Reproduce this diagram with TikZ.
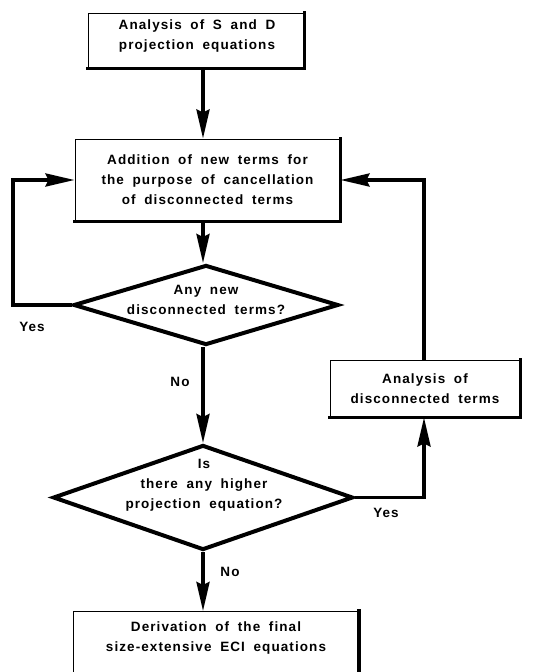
\documentclass[tikz,border=0pt]{standalone}
\usepackage{fontspec}
\setmainfont{Liberation Sans}[LetterSpace=8,WordSpace=1.8]
\usetikzlibrary{shapes.geometric,arrows.meta}
\tikzset{
  txt/.style={font=\bfseries\fontsize{13.5}{20}\selectfont, align=center, inner sep=0pt},
  box/.style={txt, draw, line width=1pt, rectangle},
  shade/.style={line width=3.5pt, line cap=rect},
  dec/.style={draw, diamond, line width=4pt, inner sep=0pt, line join=miter},
  conn/.style={line width=3.5pt, line join=miter},
  arr/.style={conn, -{Stealth[length=29pt,width=13pt,inset=3pt]}},
  lbl/.style={font=\bfseries\fontsize{13.5}{14}\selectfont, inner sep=0pt}
}
\begin{document}
\begin{tikzpicture}[x=1pt,y=-1pt]
\useasboundingbox (0,0) rectangle (533,672);
\clip (0,0) rectangle (533,672);
\coordinate (col) at (203,0);
% boxes
\node[box, minimum width=216pt, minimum height=55pt] (b1) at (196,40.5) {};
\node[txt] (t1b) at (197,36) {Analysis of S and D\\projection equations};
\node[box, minimum width=265pt, minimum height=82pt] (b2) at (207.5,180) {Addition of new terms for\\the purpose of cancellation\\of disconnected terms};
\node[box, minimum width=190pt, minimum height=57pt] (b3) at (425,388.5) {Analysis of\\disconnected terms};
\node[box, minimum width=285pt, minimum height=90pt, anchor=north] (b4) at (216,611) {};
\node[txt] (t4) at (216,638) {Derivation of the final\\size-extensive ECI equations};
\foreach \b in {b1,b2,b3,b4}{
  \draw[shade] (\b.north east) -- (\b.south east) -- (\b.south west);
}
% decisions
\node[dec, minimum width=265pt, minimum height=80pt] (d1) at (206,305) {};
\node[txt] (t1) at (206,300) {Any new\\disconnected terms?};
\node[dec, minimum width=300pt, minimum height=105pt] (d2) at (203,497.5) {};
\node[txt] (t2) at (204,485) {Is\\there any higher\\projection equation?};
% main flow
\draw[arr] (b1.south -| col) -- (b2.north -| col);
\draw[arr] (b2.south -| col) -- (d1.north -| col);
\draw[arr] (d1.south -| col) -- (d2.north);
\draw[arr] (d2.south) -- (d2.south |- b4.north);
% left loop
\coordinate (lx) at (13,0);
\draw[arr] (d1.west) -- (d1.west -| lx) -- (b2.west -| lx) -- (b2.west);
% right loop
\coordinate (rx) at (424,0);
\draw[arr] (d2.east) -- (d2.east -| rx) -- (b3.south -| rx);
\draw[arr] (b3.north -| rx) -- (b2.east -| rx) -- (b2.east);
% labels
\node[lbl] (y1) at (32,327) {Yes};
\node[lbl] (n1) at (180,382) {No};
\node[lbl] (y2) at (386,513) {Yes};
\node[lbl] (n2) at (230,572) {No};
\end{tikzpicture}
\end{document}
